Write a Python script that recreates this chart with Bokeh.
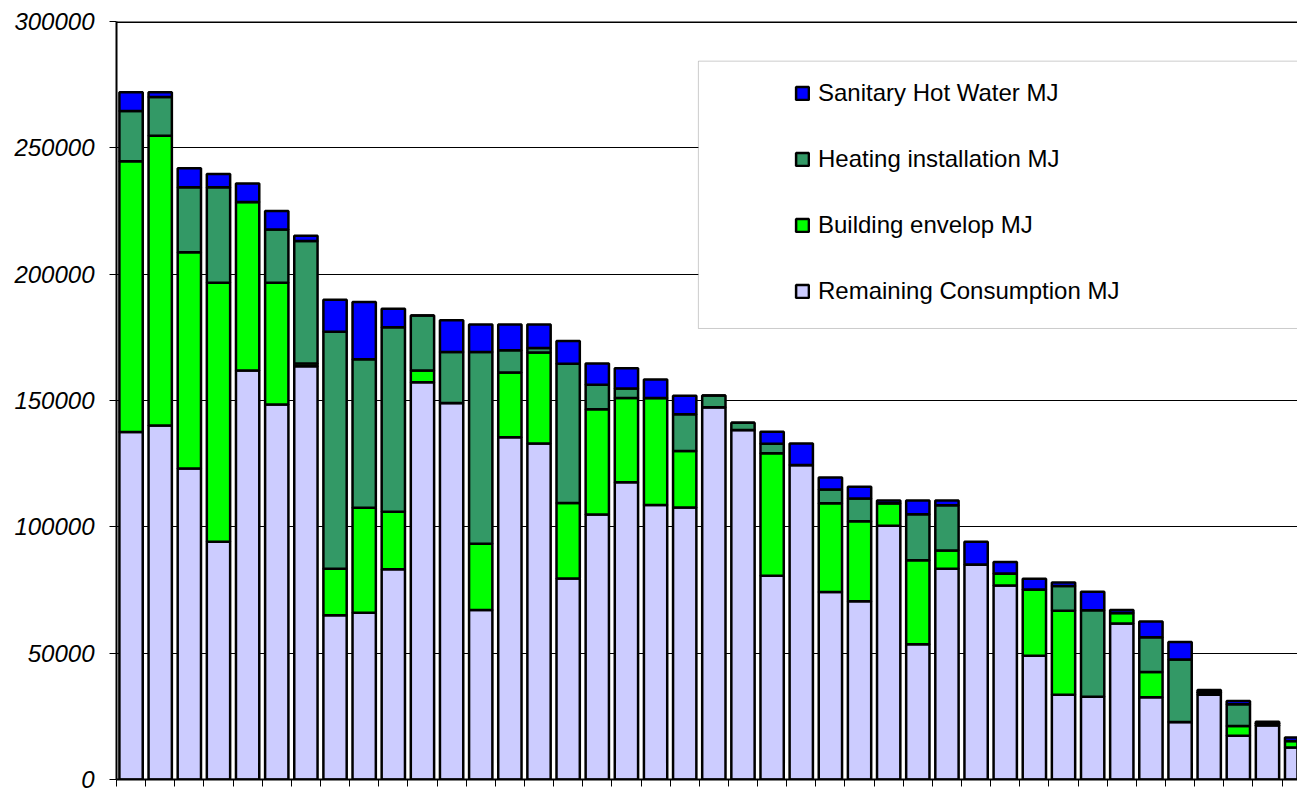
from bokeh.plotting import figure
from bokeh.models import (ColumnDataSource, Range1d, FixedTicker, BasicTickFormatter,
                          Legend, LegendItem, BoxAnnotation, Span, CustomJSTickFormatter)
from bokeh.embed import file_html
from bokeh.resources import INLINE

# ---- data (thousand MJ), one entry per building, sorted by total ----
buildings = list(range(1, 42))
remaining = [137.5, 140.1, 123.1, 94.1, 161.9, 148.4, 163.6, 65.0, 66.0, 83.2,
             157.2, 149.0, 67.1, 135.5, 133.0, 79.6, 104.9, 117.6, 108.6, 107.7,
             147.3, 138.3, 80.6, 124.5, 74.2, 70.5, 100.4, 53.5, 83.4, 85.1,
             76.8, 49.0, 33.5, 32.8, 61.7, 32.6, 22.8, 33.5, 17.3, 21.5, 12.7]
envelope = [107.2, 114.7, 85.6, 102.5, 66.7, 48.2, 1.0, 18.4, 41.6, 22.8,
            4.7, 0.0, 26.2, 25.6, 36.0, 29.8, 41.6, 33.4, 42.4, 22.3,
            0.0, 0.0, 48.5, 0.0, 35.1, 31.7, 8.9, 33.3, 7.2, 0.0,
            4.7, 26.2, 33.3, 0.0, 4.2, 9.9, 0.0, 0.0, 3.9, 0.0, 2.5]
heating = [19.9, 15.3, 25.7, 37.8, 0.0, 21.1, 48.5, 93.8, 58.7, 73.0,
           21.7, 20.2, 75.9, 8.8, 1.8, 55.1, 9.7, 3.7, 0.0, 14.6,
           4.7, 2.9, 3.8, 0.0, 5.5, 9.0, 0.0, 18.2, 17.9, 0.0,
           0.0, 0.0, 9.8, 34.2, 0.0, 13.8, 24.7, 1.0, 8.6, 0.7, 0.0]
hot_water = [7.4, 1.9, 7.5, 5.2, 7.3, 7.3, 2.1, 12.7, 22.7, 7.3,
             0.0, 12.6, 10.9, 10.2, 9.3, 9.0, 8.4, 8.1, 7.3, 7.3,
             0.0, 0.0, 4.7, 8.5, 4.7, 4.7, 1.1, 5.4, 1.9, 9.0,
             4.6, 4.3, 1.4, 7.3, 1.2, 6.2, 6.9, 0.9, 1.3, 0.7, 1.4]

series_keys = ["remaining", "envelope", "heating", "hot_water"]
series_labels = ["Remaining Consumption MJ", "Building envelop MJ",
                 "Heating installation MJ", "Sanitary Hot Water MJ"]
series_colors = ["#CCCCFF", "#00FF00", "#339966", "#0000FF"]
y_ticks = [0, 50000, 100000, 150000, 200000, 250000, 300000]

src = ColumnDataSource(dict(
    x=buildings,
    remaining=[v * 1000 for v in remaining],
    envelope=[v * 1000 for v in envelope],
    heating=[v * 1000 for v in heating],
    hot_water=[v * 1000 for v in hot_water],
))

p = figure(width=1297, height=793, output_backend="svg", toolbar_location=None,
           x_range=Range1d(0.5, 41.03), y_range=Range1d(0, 300000),
           min_border_left=116, min_border_right=0, min_border_top=21,
           min_border_bottom=14)
p.background_fill_color = "white"
p.border_fill_color = "white"
p.outline_line_color = None

renderers = p.vbar_stack(series_keys, x="x", width=0.8, source=src,
                         fill_color=series_colors, line_color="black",
                         line_width=2.5)

# axes
p.yaxis.ticker = FixedTicker(ticks=y_ticks)
p.yaxis.formatter = BasicTickFormatter(use_scientific=False)
p.yaxis.major_label_text_font = "Liberation Sans"
p.yaxis.major_label_text_font_style = "italic"
p.yaxis.major_label_text_font_size = "24px"
p.yaxis.major_label_text_color = "black"
p.yaxis.major_label_standoff = 15
p.yaxis.axis_line_width = 2
p.yaxis.axis_line_color = "black"
p.yaxis.major_tick_out = 7
p.yaxis.major_tick_in = 0
p.yaxis.major_tick_line_color = "black"
p.yaxis.minor_tick_line_color = None

p.xaxis.ticker = FixedTicker(ticks=[b - 0.5 for b in buildings])
p.xaxis.formatter = CustomJSTickFormatter(code="return '';")
p.xaxis.major_label_standoff = 0
p.xaxis.axis_line_width = 2
p.xaxis.axis_line_color = "black"
p.xaxis.major_tick_out = 7
p.xaxis.major_tick_in = 0
p.xaxis.major_tick_line_color = "black"
p.xaxis.minor_tick_line_color = None

p.xgrid.grid_line_color = None
p.ygrid.ticker = FixedTicker(ticks=y_ticks)
p.ygrid.grid_line_color = "black"
p.ygrid.grid_line_width = 1

# top border of the plot area
p.add_layout(Span(location=y_ticks[-1], dimension="width",
                  line_color="black", line_width=3))

# legend frame
box = BoxAnnotation(left=20.47, right=45, top=284300, bottom=178500,
                    fill_color="white", fill_alpha=1.0,
                    line_color="#555555", line_width=1)
p.add_layout(box)

items = [LegendItem(label=lab, renderers=[r])
         for lab, r in zip(series_labels[::-1], renderers[::-1])]
legend = Legend(items=items, location=(678, 473), orientation="vertical",
                padding=0, spacing=36, glyph_width=16, glyph_height=16,
                label_height=30, label_standoff=8,
                label_text_font="Liberation Sans", label_text_font_size="24px",
                label_text_color="black",
                border_line_color=None, background_fill_alpha=0.0)
p.add_layout(legend)

open("out.html", "w").write(file_html(p, INLINE))
